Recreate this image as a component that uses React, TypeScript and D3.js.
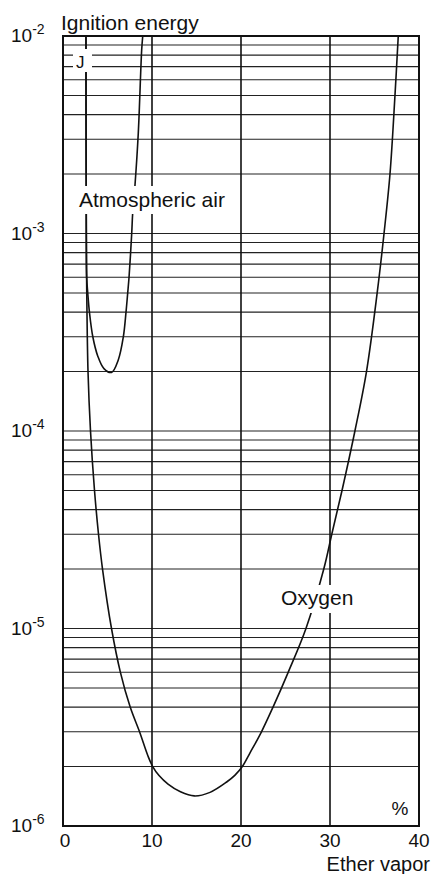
import * as React from 'react';
import * as d3 from 'd3';

// ignition energy (J) vs ether vapor concentration (%)
const oxygenPct = [2.58, 2.62, 2.67, 2.81, 3.09, 3.54, 3.99, 4.44, 5.45, 6.45, 7.55, 8.6, 9.55, 10.08, 10.79, 11.8, 13.2, 14.75, 16.52, 18.39, 19.33, 20.15, 21.0, 22.3, 23.6, 25.3, 27.3, 29.3, 30.2, 31.35, 32.8, 34.1, 35.3, 36.07, 36.74, 37.3, 37.67];
const oxygenEnergy = [1e-2, 1e-3, 5e-4, 2e-4, 1e-4, 5e-5, 3e-5, 2e-5, 1e-5, 6e-6, 4e-6, 3e-6, 2.26e-6, 2e-6, 1.8e-6, 1.63e-6, 1.49e-6, 1.42e-6, 1.48e-6, 1.67e-6, 1.81e-6, 2e-6, 2.34e-6, 3e-6, 4e-6, 6e-6, 1e-5, 2e-5, 3e-5, 5e-5, 1e-4, 2e-4, 5e-4, 1e-3, 2e-3, 5e-3, 1e-2];

const airPct = [2.58, 2.62, 2.66, 2.78, 2.97, 3.35, 3.9, 4.6, 5.45, 6.21, 6.78, 7.08, 7.27, 7.42, 7.72, 7.83, 8.09, 8.46, 8.84, 8.96];
const airEnergy = [1e-2, 1e-3, 6e-4, 5e-4, 4e-4, 3e-4, 2.4e-4, 2.07e-4, 1.98e-4, 2.29e-4, 3e-4, 4e-4, 5e-4, 6e-4, 1e-3, 1.27e-3, 1.76e-3, 3.23e-3, 8.5e-3, 1e-2];

const xTicks = [0, 10, 20, 30, 40];
const yDecades = [-2, -3, -4, -5, -6];

const W = 434;
const H = 874;
const FONT = '"Liberation Sans", Arial, sans-serif';
const INK = '#111';

export default function App() {
  const x = d3.scaleLinear().domain([0, 40]).range([63, 419]);
  const y = d3.scaleLog().domain([1e-6, 1e-2]).range([826, 36]);

  const minor: number[] = [];
  for (let d = -6; d < -2; d++) {
    for (let m = 2; m <= 9; m++) minor.push(m * Math.pow(10, d));
  }

  const line = d3.line<[number, number]>()
    .x(d => x(d[0]))
    .y(d => y(d[1]))
    .curve(d3.curveCatmullRom.alpha(0.5));

  const oxygen = oxygenPct.map((p, i) => [p, oxygenEnergy[i]] as [number, number]);
  const air = airPct.map((p, i) => [p, airEnergy[i]] as [number, number]);

  return (
    <svg width={W} height={H} style={{ position: 'absolute', left: 0, top: 0, background: '#fff' }}
      fontFamily={FONT}>
      {/* horizontal grid */}
      {[...minor, ...yDecades.map(d => Math.pow(10, d))].map((v, i) => (
        <line key={'h' + i} x1={x(0)} x2={x(40)} y1={y(v)} y2={y(v)} stroke="#222" strokeWidth={1.1} />
      ))}
      {/* vertical grid */}
      {xTicks.slice(1, -1).map(t => (
        <line key={'v' + t} x1={x(t)} x2={x(t)} y1={y(1e-2)} y2={y(1e-6)} stroke={INK} strokeWidth={1.6} />
      ))}
      {/* curves */}
      <path d={line(oxygen) || ''} fill="none" stroke={INK} strokeWidth={1.6} />
      <path d={line(air) || ''} fill="none" stroke={INK} strokeWidth={1.6} />
      {/* frame */}
      <rect x={x(0)} y={y(1e-2)} width={x(40) - x(0)} height={y(1e-6) - y(1e-2)} fill="none" stroke={INK} strokeWidth={2} />

      {/* in-plot labels on white patches */}
      <rect x={73} y={49} width={19} height={23} fill="#fff" />
      <text x={76} y={68} fontSize={17} fill={INK}>J</text>
      <rect x={76} y={186} width={156} height={28} fill="#fff" />
      <text x={79} y={207} fontSize={21} fill={INK}>Atmospheric air</text>
      <rect x={278} y={585} width={76} height={28} fill="#fff" />
      <text x={281} y={605} fontSize={21} fill={INK}>Oxygen</text>
      <text x={400} y={815} fontSize={19} textAnchor="middle" fill={INK}>%</text>

      {/* y ticks */}
      {yDecades.map(d => (
        <text key={'y' + d} x={11} y={y(Math.pow(10, d)) + 6} fontSize={19} fill={INK}>
          10<tspan dy={-8} fontSize={14}>{'-' + (-d)}</tspan>
        </text>
      ))}
      {/* x ticks */}
      {xTicks.map(t => (
        <text key={'x' + t} x={x(t) + (t === 0 ? 2 : 0)} y={847} fontSize={19} textAnchor="middle" fill={INK}>{t}</text>
      ))}

      <text x={61} y={30} fontSize={21} fill={INK}>Ignition energy</text>
      <text x={430} y={871} fontSize={20} textAnchor="end" fill={INK}>Ether vapor</text>
    </svg>
  );
}
